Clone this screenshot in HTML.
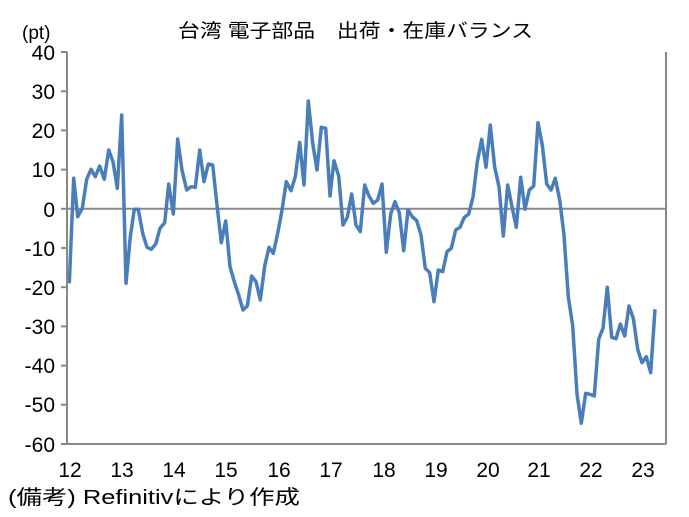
<!DOCTYPE html>
<html><head><meta charset="utf-8"><style>
html,body{margin:0;padding:0;background:#fff;}
svg text{font-family:"Liberation Sans","Noto Sans CJK JP",sans-serif;fill:#000;}
</style></head><body>
<svg width="689" height="512" viewBox="0 0 689 512" xmlns="http://www.w3.org/2000/svg">
<rect width="689" height="512" fill="#fff"/>
<text x="178" y="37" font-size="19" textLength="355" lengthAdjust="spacingAndGlyphs" font-family="Noto Sans CJK JP">台湾 電子部品　出荷・在庫バランス</text>
<text x="22" y="39" font-size="19" font-family="Liberation Mono">(pt)</text>
<g stroke="#888" stroke-width="2" fill="none">
<line x1="67" y1="52" x2="67" y2="444"/>
<line x1="666" y1="52" x2="666" y2="444"/>
<line x1="67" y1="444" x2="666" y2="444"/>
<line x1="67" y1="208.8" x2="666" y2="208.8"/>
<line x1="61" y1="52" x2="67" y2="52"/>
<line x1="61" y1="91.2" x2="67" y2="91.2"/>
<line x1="61" y1="130.4" x2="67" y2="130.4"/>
<line x1="61" y1="169.6" x2="67" y2="169.6"/>
<line x1="61" y1="208.8" x2="67" y2="208.8"/>
<line x1="61" y1="248" x2="67" y2="248"/>
<line x1="61" y1="287.2" x2="67" y2="287.2"/>
<line x1="61" y1="326.4" x2="67" y2="326.4"/>
<line x1="61" y1="365.6" x2="67" y2="365.6"/>
<line x1="61" y1="404.8" x2="67" y2="404.8"/>
<line x1="61" y1="444" x2="67" y2="444"/>
</g>
<g font-size="21" text-anchor="end">
<text x="55" y="60">40</text><text x="55" y="99">30</text><text x="55" y="138">20</text>
<text x="55" y="177">10</text><text x="55" y="217">0</text><text x="55" y="256">-10</text>
<text x="55" y="295">-20</text><text x="55" y="334">-30</text><text x="55" y="373">-40</text>
<text x="55" y="412">-50</text><text x="55" y="452">-60</text>
</g>
<g font-size="21" text-anchor="middle">
<text x="70" y="477">12</text><text x="122" y="477">13</text><text x="174" y="477">14</text>
<text x="226" y="477">15</text><text x="279" y="477">16</text><text x="331" y="477">17</text>
<text x="384" y="477">18</text><text x="436" y="477">19</text><text x="488" y="477">20</text>
<text x="539" y="477">21</text><text x="591" y="477">22</text><text x="643" y="477">23</text>
</g>
<text x="8" y="504" font-size="20" textLength="292" lengthAdjust="spacingAndGlyphs">(備考) Refinitivにより作成</text>
<polyline fill="none" stroke="#4a7ebb" stroke-width="3.5" stroke-linejoin="round" points="
69.3,283.3 73.7,178.3 77.7,216.7 82.3,208.3 86.7,179.3 91,169.3 95.3,176.7 99.7,166 104.3,179.3 108.7,150 113,161.7 117.3,188.3 121.7,115 126,283.3 130.3,236.7 134.3,209.3 138.3,209.3 142.7,233.3 147,247.3 151.3,249.3 155.7,244 160,228.3 164.7,222.7 168.7,184 173.3,214 177.7,139 182,170 186.7,190 191,186.7 195.3,187.3 199.7,150 204,181.7 208.3,164 212.7,165 217,205 221.3,242.7 225.7,221 230,266.7 234.3,281.7 238.7,295 243,310 247.3,306 251.7,276 256,281.7 260.3,300 264.7,266 269,247.3 273.3,253.3 277.7,233.3 282,210 286.3,181.7 291,190.7 295.3,176.7 299.7,142.3 304,185 308.3,101 312.7,143.3 317,170 321.3,127.3 325.7,128.3 330,196 334,160.7 338.7,176 343,225 347.3,217.3 351.7,194 356,225 360.3,231.7 364.7,185 369,196 373.3,203.3 377.7,200 382,184 386.3,252.3 390.7,214 395,201.7 399.3,212.7 403.7,250.7 408,210 412.3,216.7 416.7,220.7 421,235 425.3,268.3 429.7,272.7 434,301.7 438.3,270 442.7,271.7 447,251.7 451.3,248.3 455.7,230 460,227.3 464.3,217.5 468.7,214 473,197.3 477.3,161.7 481.7,139.3 486,167.3 490.3,125 494.7,167.3 499,186.7 503.3,236 507.7,185 512,206.7 516.3,227.3 520.7,177.3 525,209.3 529.3,190 533.7,186 538,122.7 542.3,145 546.7,184 551,190 555.3,178.3 559.7,200 564,235 568.3,296.7 572.7,326 577,394 581.3,423.3 585.7,393.3 590,394.3 594.3,396 598.7,339.3 603,328.3 607.3,287.3 611.7,337.3 616,338.7 620.3,324 624.7,336 629,306 633.3,318.3 637.7,349.3 642,362.7 646.3,356.7 650.7,372.7 655,309.3"/>
</svg>
</body></html>
